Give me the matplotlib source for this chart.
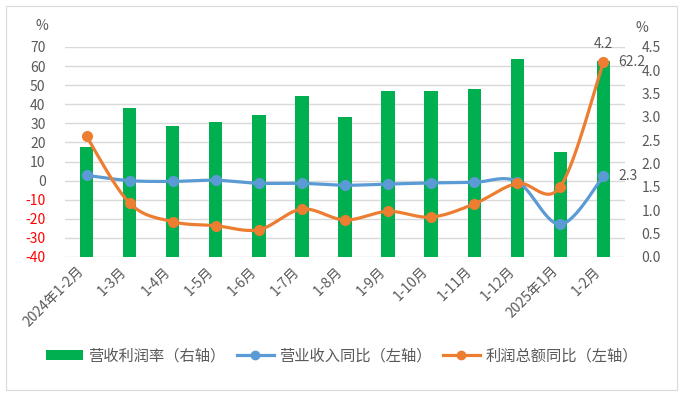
import numpy as np
import matplotlib
matplotlib.use("Agg")
import matplotlib.pyplot as plt
from matplotlib.patches import Rectangle
from matplotlib.lines import Line2D
from matplotlib.patches import Patch

plt.rcParams['font.family'] = ['Noto Sans CJK SC', 'DejaVu Sans']

categories = ['2024年1-2月', '1-3月', '1-4月', '1-5月', '1-6月', '1-7月', '1-8月',
              '1-9月', '1-10月', '1-11月', '1-12月', '2025年1月', '1-2月']
margin_rate = [2.35, 3.2, 2.8, 2.9, 3.05, 3.45, 3.0, 3.55, 3.55, 3.6, 4.25, 2.25, 4.2]
revenue_yoy = [2.8, 0.0, -0.4, 0.2, -1.4, -1.4, -2.4, -1.8, -1.2, -0.9, -0.5, -22.9, 2.3]
profit_yoy = [23.2, -11.8, -21.5, -23.6, -25.7, -14.9, -20.6, -16.1, -19.1, -12.2, -1.4, -3.1, 62.2]
left_ticks = list(range(-40, 80, 10))
right_ticks = [0.0, 0.5, 1.0, 1.5, 2.0, 2.5, 3.0, 3.5, 4.0, 4.5]
legend_labels = ['营收利润率（右轴）', '营业收入同比（左轴）', '利润总额同比（左轴）']

GREEN = '#00B050'
BLUE = '#5B9BD5'
ORANGE = '#ED7D31'
TXT = '#595959'
GRID = '#D9D9D9'


def smooth(xs, ys, n=30):
    xs = np.asarray(xs, float)
    ys = np.asarray(ys, float)
    px = np.concatenate([[xs[0]], xs, [xs[-1]]])
    py = np.concatenate([[ys[0]], ys, [ys[-1]]])
    ox, oy = [], []
    t = np.linspace(0, 1, n)
    for i in range(1, len(px) - 2):
        p0 = np.array([px[i], py[i]])
        p3 = np.array([px[i + 1], py[i + 1]])
        c1 = p0 + (np.array([px[i + 1], py[i + 1]]) - np.array([px[i - 1], py[i - 1]])) / 6
        c2 = p3 - (np.array([px[i + 2], py[i + 2]]) - np.array([px[i], py[i]])) / 6
        b = ((1 - t) ** 3)[:, None] * p0 + (3 * (1 - t) ** 2 * t)[:, None] * c1 + \
            (3 * (1 - t) * t ** 2)[:, None] * c2 + (t ** 3)[:, None] * p3
        ox.extend(b[:, 0])
        oy.extend(b[:, 1])
    return np.array(ox), np.array(oy)


fig = plt.figure(figsize=(6.84, 3.96), dpi=100)
fig.patches.append(Rectangle((6 / 684, 1 - 390 / 396), 671 / 684, 384 / 396,
                             transform=fig.transFigure, fill=False,
                             edgecolor=GRID, linewidth=0.8))

rect = [65 / 684, 1 - 257 / 396, 560 / 684, 210 / 396]
ax = fig.add_axes(rect)
ax2 = ax.twinx()
ax3 = ax.twinx()

x = np.arange(len(categories))

# left axis: grid and ticks
ax.set_xlim(-0.5, len(categories) - 0.5)
ax.set_ylim(-40, 70)
ax.set_yticks(left_ticks)
ax.set_yticklabels([str(v) for v in left_ticks], fontsize=10)
for lab, v in zip(ax.get_yticklabels(), left_ticks):
    lab.set_color('red' if v < 0 else TXT)
ax.yaxis.grid(True, color=GRID, linewidth=1)
ax.set_axisbelow(True)
ax.tick_params(axis='y', length=0, pad=14)
ax.set_xticks(x)
ax.set_xticklabels(categories, rotation=45, ha='right', fontsize=10, color=TXT)
ax.tick_params(axis='x', length=0, pad=5)
for s in ax.spines.values():
    s.set_visible(False)

# right axis: bars
ax2.bar(x, margin_rate, width=0.31, color=GREEN, zorder=2)
ax2.set_ylim(0, 4.5)
ax2.set_yticks(right_ticks)
ax2.set_yticklabels([f'{v:.1f}' for v in right_ticks], fontsize=10, color=TXT)
ax2.tick_params(axis='y', length=0, pad=12)
for s in ax2.spines.values():
    s.set_visible(False)

# lines on left scale
ax3.set_ylim(-40, 70)
ax3.set_yticks([])
for s in ax3.spines.values():
    s.set_visible(False)
sx, sy = smooth(x, revenue_yoy)
ax3.plot(sx, sy, color=BLUE, linewidth=2.3, solid_capstyle='round')
ax3.plot(x, revenue_yoy, 'o', color=BLUE, markersize=7)
sx, sy = smooth(x, profit_yoy)
ax3.plot(sx, sy, color=ORANGE, linewidth=2.3, solid_capstyle='round')
ax3.plot(x, profit_yoy, 'o', color=ORANGE, markersize=7)

# data labels
ax2.annotate(f'{margin_rate[-1]:.1f}', (x[-1], margin_rate[-1]), xytext=(0, 7),
             textcoords='offset points', ha='center', va='bottom', fontsize=10, color=TXT)
ax3.annotate(f'{profit_yoy[-1]:.1f}', (x[-1], profit_yoy[-1]), xytext=(11, 0),
             textcoords='offset points', ha='left', va='center', fontsize=10, color=TXT)
ax3.annotate(f'{revenue_yoy[-1]:.1f}', (x[-1], revenue_yoy[-1]), xytext=(11, 0),
             textcoords='offset points', ha='left', va='center', fontsize=10, color=TXT)

# percent labels
fig.text(42 / 684, 1 - 26 / 396, '%', ha='center', va='center', fontsize=10, color=TXT)
fig.text(642 / 684, 1 - 28 / 396, '%', ha='center', va='center', fontsize=10, color=TXT)

handles = [Patch(facecolor=GREEN, edgecolor='none'),
           Line2D([], [], color=BLUE, linewidth=2.3, marker='o', markersize=6),
           Line2D([], [], color=ORANGE, linewidth=2.3, marker='o', markersize=6)]
fig.legend(handles, legend_labels, loc='center', bbox_to_anchor=(0.5, 1 - 356 / 396),
           ncol=3, frameon=False, fontsize=11, handlelength=2.4, handleheight=0.6,
           handletextpad=0.35, columnspacing=0.75, labelcolor=TXT)

fig.savefig('out.png', dpi=100)
